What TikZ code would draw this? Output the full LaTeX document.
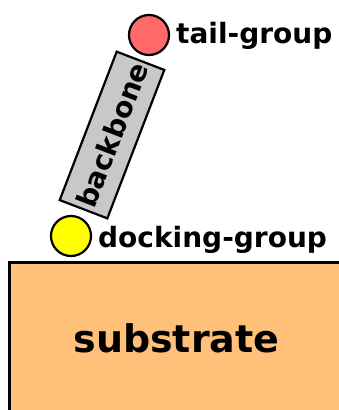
\documentclass[tikz,border=0pt]{standalone}
\usepackage{fontspec}
\setmainfont{DejaVu Sans}
\definecolor{substratefill}{RGB}{255,192,122}
\definecolor{tailfill}{RGB}{255,105,105}
\definecolor{dockfill}{RGB}{255,255,0}
\definecolor{backbonefill}{RGB}{200,200,200}
\tikzset{
  label text/.style={font=\fontsize{28}{33}\selectfont\bfseries, inner sep=0pt},
  group ball/.style={circle, draw=black, line width=2.2pt, minimum size=40pt, inner sep=0pt},
}
\begin{document}
\begin{tikzpicture}[x=1pt, y=-1pt]
  \useasboundingbox (0,0) rectangle (339,410);
  \clip (0,0) rectangle (339,410);

  % substrate block running off the bottom and right edges
  \draw[line width=2.5pt, fill=substratefill] (9.5,262.5) rectangle (360,430);
  \node[label text, font=\fontsize{38}{45}\selectfont\bfseries, anchor=base] (substrate) at (176.5,352) {substrate};

  % molecule: docking group, backbone, tail group
  \node[group ball, fill=dockfill] (dock) at (71,236) {};
  \node[group ball, fill=tailfill] (tail) at (149,35) {};
  \node[draw=black, line width=2.2pt, fill=backbonefill, minimum width=159pt, minimum height=51pt,
        inner sep=0pt, rotate=69, label text] (backbone) at (112,135) {backbone};

  % labels
  \node[label text, anchor=base west] (docklabel) at (98,247) {docking-group};
  \node[label text, anchor=base west] (taillabel) at (176,43) {tail-group};
\end{tikzpicture}
\end{document}
